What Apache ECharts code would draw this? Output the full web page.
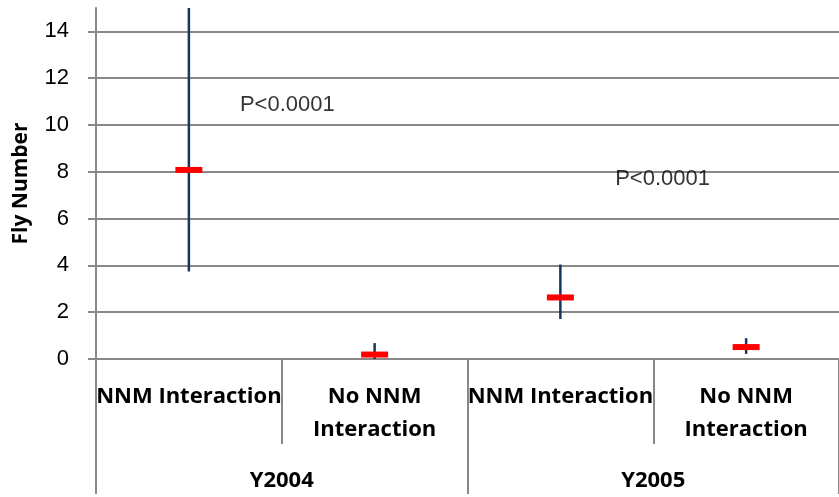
<!DOCTYPE html>
<html><head><meta charset="utf-8">
<script src="https://cdn.jsdelivr.net/npm/echarts@6/dist/echarts.min.js"></script>
<style>html,body{margin:0;padding:0;background:#fff}#c{width:839px;height:497px}</style>
</head><body><div id="c"></div>
<script>
const categories = ['NNM Interaction', 'No NNM\nInteraction', 'NNM Interaction', 'No NNM\nInteraction'];
const groups = ['Y2004', 'Y2005'];
const means = [8.08, 0.19, 2.63, 0.51];
const lows = [3.74, 0.0, 1.71, 0.22];
const highs = [16.0, 0.68, 4.04, 0.89];
const yTicks = [0, 2, 4, 6, 8, 10, 12, 14];
const annotationText = ['P<0.0001', 'P<0.0001'];
const annotationX = [0.53, 2.55];
const annotationY = [10.85, 7.7];

const gridColor = '#888888';
const chart = echarts.init(document.getElementById('c'));
const font = 'Open Sans';
const font2 = 'Liberation Sans';
chart.setOption({
  animation: false,
  textStyle: { fontFamily: font },
  grid: { left: 96, top: 8, width: 752, bottom: 135, containLabel: false },
  xAxis: [
    {
      type: 'category', data: categories, position: 'bottom', boundaryGap: true,
      axisLine: { show: true, onZero: false, lineStyle: { color: gridColor, width: 2 } },
      axisTick: { show: true, interval: 0, length: 85, lineStyle: { color: gridColor, width: 2 } },
      axisLabel: { interval: 0, margin: 21, fontSize: 22, fontWeight: 'bold', color: '#000', lineHeight: 33, fontFamily: font }
    },
    {
      type: 'category', data: groups, position: 'bottom', boundaryGap: true,
      axisLine: { show: false, onZero: false },
      axisTick: { show: true, interval: 0, length: 135, lineStyle: { color: gridColor, width: 2 } },
      axisLabel: { interval: 0, margin: 105, fontSize: 22, fontWeight: 'bold', color: '#000', lineHeight: 33, fontFamily: font }
    },
    { type: 'value', min: -0.5, max: 3.5, show: false, axisLine: { onZero: false } }
  ],
  yAxis: {
    type: 'value', min: 0, max: 15, interval: 2,
    name: 'Fly Number', nameLocation: 'middle', nameGap: 64,
    nameTextStyle: { fontSize: 21, fontWeight: 'bold', color: '#000', fontFamily: font },
    axisLine: { show: true, onZero: false, lineStyle: { color: gridColor, width: 2 } },
    axisTick: { show: true, length: 8, customValues: yTicks, lineStyle: { color: gridColor, width: 2 } },
    axisLabel: { margin: 27, fontSize: 22, color: '#000', customValues: yTicks, fontFamily: font2 },
    splitLine: { show: true, lineStyle: { color: gridColor, width: 2 } }
  },
  series: [
    {
      type: 'custom', xAxisIndex: 0, clip: true, z: 3,
      data: categories.map((c, i) => [i, lows[i], highs[i]]),
      encode: { x: 0, y: [1, 2] },
      renderItem: function (params, api) {
        const p1 = api.coord([api.value(0), api.value(1)]);
        const p2 = api.coord([api.value(0), api.value(2)]);
        return { type: 'line', shape: { x1: p1[0], y1: p1[1], x2: p2[0], y2: p2[1] },
          style: { stroke: '#17375E', lineWidth: 2.5 } };
      }
    },
    {
      type: 'scatter', xAxisIndex: 0, z: 4, symbol: 'rect', symbolSize: [27, 6],
      itemStyle: { color: '#FF0000', opacity: 1 },
      data: categories.map((c, i) => [i, means[i]])
    },
    {
      type: 'scatter', xAxisIndex: 2, z: 5, symbolSize: 0, silent: true,
      data: annotationX.map((x, i) => [x, annotationY[i]]),
      label: { show: true, position: 'inside', fontSize: 22, color: '#000', fontFamily: font2,
        formatter: p => annotationText[p.dataIndex] }
    }
  ]
});
</script></body></html>
